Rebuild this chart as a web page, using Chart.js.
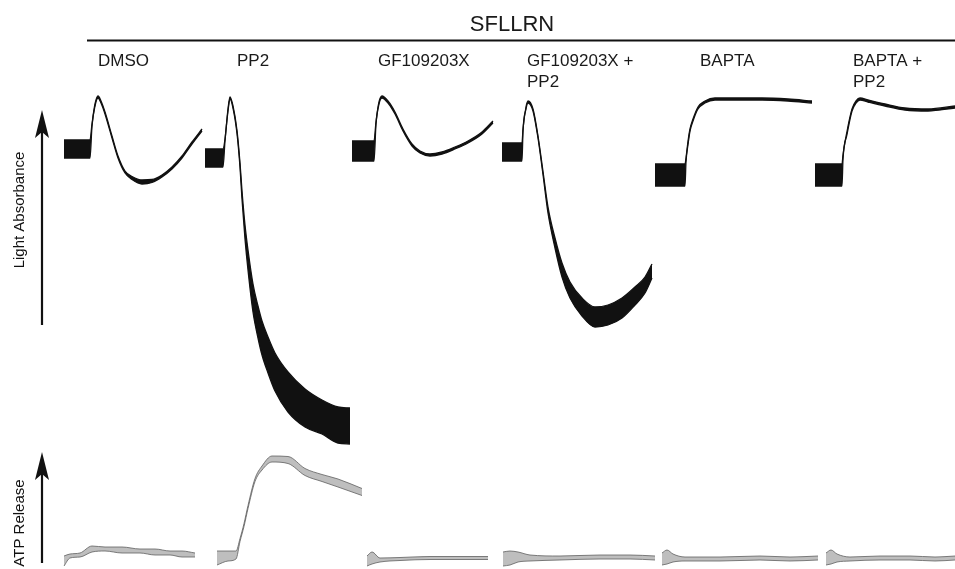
<!DOCTYPE html>
<html lang="en">
<head>
    <meta charset="UTF-8">
    <title>SFLLRN aggregation and ATP release</title>
    <style>
        body {
            margin: 0;
            padding: 0;
            background: #ffffff;
        }
        #chart {
            display: block;
        }
    </style>
    <script src="https://cdn.jsdelivr.net/npm/chart.js"></script>
</head>
<body>
    <canvas id="chart" width="955" height="569"></canvas>

    <script>
        // Trace data (x = time position, y = recorder position, w = noise half-width)
        const conditions = ['DMSO', 'PP2', 'GF109203X', 'GF109203X +\nPP2', 'BAPTA', 'BAPTA +\nPP2'];

        // Light absorbance traces
        const dmsoX = [64, 90, 92, 95, 98, 101, 105, 112, 118, 125, 132, 142, 152, 162, 172, 182, 192, 202];
        const dmsoY = [149, 149, 125, 105, 97, 102, 113, 137, 157, 172, 178, 182, 181, 176, 168, 157, 143, 130];
        const dmsoW = [9, 9, 1, 1, 1, 1, 1, 1, 1, 1, 1.5, 2, 1.5, 1, 1, 1, 1, 1];

        const pp2X = [205, 223, 225, 228, 230, 233, 237, 240, 242, 245, 248, 253, 258, 262, 268, 275, 288, 305, 322, 338, 350];
        const pp2Y = [158, 158, 140, 110, 98, 107, 132, 165, 195, 232, 260, 298, 322, 338, 355, 372, 392, 408, 417, 425, 426];
        const pp2W = [9, 9, 1, 1, 1, 1, 1.5, 2, 4, 7, 10, 14, 16, 17, 18, 19, 20, 19, 17, 18, 18];

        const gfX = [352, 374, 376, 379, 382, 388, 395, 403, 412, 420, 430, 442, 455, 468, 482, 493];
        const gfY = [151, 151, 123, 103, 97, 102, 113, 130, 145, 152, 155, 153, 148, 142, 133, 122];
        const gfW = [10, 10, 1, 1, 1, 1, 1, 1, 1, 1, 1, 1, 1, 1, 1, 1];

        const gfPp2X = [502, 522, 523, 526, 528, 533, 538, 543, 548, 555, 562, 570, 582, 595, 608, 622, 635, 645, 652];
        const gfPp2Y = [152, 152, 130, 108, 102, 110, 137, 173, 210, 243, 270, 290, 307, 317, 315, 308, 296, 285, 271];
        const gfPp2W = [9, 9, 1, 1, 1, 1, 1, 1.5, 3, 5, 7, 8, 9, 10, 10, 10, 9, 8, 7];

        const baptaX = [655, 685, 686, 688, 690, 693, 698, 705, 715, 732, 762, 788, 812];
        const baptaY = [175, 175, 160, 143, 130, 120, 108, 102, 99, 99, 99, 100, 102];
        const baptaW = [11, 11, 2, 1.5, 1, 1, 1, 1, 1, 1, 1, 1, 1];

        const baptaPp2X = [815, 842, 843, 847, 852, 856, 860, 868, 885, 905, 928, 955];
        const baptaPp2Y = [175, 175, 157, 133, 110, 102, 99, 101, 105, 109, 110, 107];
        const baptaPp2W = [11, 11, 2, 1.5, 1, 1, 1, 1, 1, 1, 1, 1];

        // ATP release traces
        const atpDmsoX = [64, 70, 80, 92, 105, 122, 140, 155, 170, 182, 195];
        const atpDmsoY = [561, 556, 555, 549, 549, 550, 551, 552, 553, 554, 555];
        const atpDmsoW = [5, 2, 2, 3, 2, 3, 2, 3, 2, 3, 2];

        const atpPp2X = [217, 228, 236, 240, 244, 248, 255, 262, 272, 288, 305, 322, 338, 362];
        const atpPp2Y = [558, 556, 555, 540, 525, 507, 480, 468, 459, 460, 472, 478, 483, 492];
        const atpPp2W = [7, 5, 4, 1.5, 1.5, 1.5, 1.5, 2, 3, 3.5, 3.5, 3.5, 4, 3.5];

        const atpGfX = [367, 372, 380, 400, 430, 460, 488];
        const atpGfY = [561, 558, 560, 559, 558, 558, 558];
        const atpGfW = [5, 6, 2, 1.5, 1.5, 1.5, 1.5];

        const atpGfPp2X = [503, 510, 518, 530, 560, 600, 630, 655];
        const atpGfPp2Y = [559, 558, 557, 558, 558, 557, 557, 558];
        const atpGfPp2W = [7, 7, 5, 3, 2, 2, 2, 2];

        const atpBaptaX = [662, 667, 673, 685, 720, 760, 790, 818];
        const atpBaptaY = [559, 557, 558, 559, 559, 558, 559, 558];
        const atpBaptaW = [6, 7, 4, 2, 2, 2, 2, 2];

        const atpBaptaPp2X = [826, 831, 837, 850, 880, 910, 935, 955];
        const atpBaptaPp2Y = [559, 557, 558, 559, 558, 558, 559, 558];
        const atpBaptaPp2W = [6, 7, 4, 2, 2, 2, 2, 2];

        // builds an upper and a lower edge, filled between them
        function band(xs, ys, ws, line, fillColor, width) {
            const upper = xs.map((x, i) => ({ x: x, y: ys[i] - ws[i] }));
            const lower = xs.map((x, i) => ({ x: x, y: ys[i] + ws[i] }));
            const common = {
                borderColor: line,
                borderWidth: width,
                pointRadius: 0,
                cubicInterpolationMode: 'monotone'
            };
            return [
                Object.assign({ data: upper, fill: false }, common),
                Object.assign({ data: lower, fill: '-1', backgroundColor: fillColor }, common)
            ];
        }

        const black = '#111111';
        const grey = '#5f5f5f';
        const greyFill = 'rgba(110,110,110,0.45)';

        const datasets = [].concat(
            band(dmsoX, dmsoY, dmsoW, black, black, 1.3),
            band(pp2X, pp2Y, pp2W, black, black, 1.3),
            band(gfX, gfY, gfW, black, black, 1.3),
            band(gfPp2X, gfPp2Y, gfPp2W, black, black, 1.3),
            band(baptaX, baptaY, baptaW, black, black, 1.3),
            band(baptaPp2X, baptaPp2Y, baptaPp2W, black, black, 1.3),
            band(atpDmsoX, atpDmsoY, atpDmsoW, grey, greyFill, 0.8),
            band(atpPp2X, atpPp2Y, atpPp2W, grey, greyFill, 0.8),
            band(atpGfX, atpGfY, atpGfW, grey, greyFill, 0.8),
            band(atpGfPp2X, atpGfPp2Y, atpGfPp2W, grey, greyFill, 0.8),
            band(atpBaptaX, atpBaptaY, atpBaptaW, grey, greyFill, 0.8),
            band(atpBaptaPp2X, atpBaptaPp2Y, atpBaptaPp2W, grey, greyFill, 0.8)
        );

        // label positions for the condition names
        const labelX = [98, 237, 378, 527, 700, 853];
        const font = '"Liberation Sans", Arial, sans-serif';

        function drawArrow(ctx, x, top, bottom) {
            ctx.strokeStyle = '#111';
            ctx.lineWidth = 2.2;
            ctx.beginPath();
            ctx.moveTo(x, bottom);
            ctx.lineTo(x, top + 20);
            ctx.stroke();
            ctx.fillStyle = '#111';
            ctx.beginPath();
            ctx.moveTo(x, top);
            ctx.lineTo(x + 7, top + 28);
            ctx.lineTo(x, top + 22);
            ctx.lineTo(x - 7, top + 28);
            ctx.closePath();
            ctx.fill();
        }

        function drawVertical(ctx, text, x, y) {
            ctx.save();
            ctx.translate(x, y);
            ctx.rotate(-Math.PI / 2);
            ctx.textAlign = 'center';
            ctx.textBaseline = 'middle';
            ctx.fillText(text, 0, 0);
            ctx.restore();
        }

        const figureLabels = {
            id: 'figureLabels',
            afterDraw(chart) {
                const ctx = chart.ctx;
                ctx.save();
                ctx.fillStyle = '#1a1a1a';

                // stimulus header
                ctx.font = '22px ' + font;
                ctx.textAlign = 'center';
                ctx.textBaseline = 'alphabetic';
                ctx.fillText('SFLLRN', 512, 31);
                ctx.strokeStyle = '#111';
                ctx.lineWidth = 2;
                ctx.beginPath();
                ctx.moveTo(87, 40.5);
                ctx.lineTo(955, 40.5);
                ctx.stroke();

                // condition names
                ctx.font = '17px ' + font;
                ctx.textAlign = 'left';
                conditions.forEach((c, i) => {
                    c.split('\n').forEach((part, j) => {
                        ctx.fillText(part, labelX[i], 66 + j * 21);
                    });
                });

                // axis arrows
                drawArrow(ctx, 42, 110, 325);
                drawArrow(ctx, 42, 452, 563);
                ctx.font = '15px ' + font;
                drawVertical(ctx, 'Light Absorbance', 20, 210);
                drawVertical(ctx, 'ATP Release', 20, 523);
                ctx.restore();
            }
        };

        new Chart(document.getElementById('chart'), {
            type: 'line',
            data: { datasets: datasets },
            options: {
                responsive: false,
                animation: false,
                layout: { padding: 0 },
                plugins: {
                    legend: { display: false },
                    tooltip: { enabled: false }
                },
                scales: {
                    x: { type: 'linear', min: 0, max: 955, display: false },
                    y: { type: 'linear', min: 0, max: 569, reverse: true, display: false }
                }
            },
            plugins: [figureLabels]
        });
    </script>
</body>
</html>
